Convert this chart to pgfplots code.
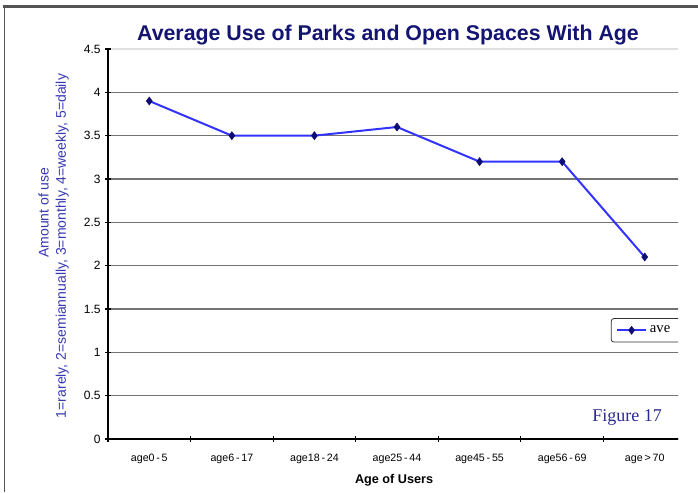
\documentclass[border=0pt]{standalone}
\usepackage{fontspec}
\setmainfont{Liberation Sans}
\newfontfamily\serif{Liberation Serif}
\usepackage{pgfplots}
\pgfplotsset{compat=1.18}
\definecolor{titlecol}{rgb}{0.08,0.08,0.45}
\definecolor{labcol}{rgb}{0.22,0.22,0.70}
\definecolor{linecol}{rgb}{0.20,0.20,1.00}
\definecolor{markcol}{rgb}{0.05,0.05,0.45}
\definecolor{figcol}{rgb}{0.17,0.17,0.55}
\definecolor{framecol}{rgb}{0.33,0.33,0.33}
\begin{document}
\begin{tikzpicture}
\useasboundingbox (0,0) rectangle (523.5pt,369pt);
\fill[white] (0,0) rectangle (523.5pt,369pt);
% outer frame (only top and left edges are visible)
\draw[framecol, line width=2.2pt] (2.25pt,364.1pt) -- (523.5pt,364.1pt);
\draw[framecol, line width=1.1pt] (3.4pt,364.1pt) -- (3.4pt,0pt);
\clip (0,0) rectangle (508.5pt,369pt);
\node[font=\bfseries\fontsize{16}{18}\selectfont, text=titlecol] at (291pt,343pt)
  {Average Use of Parks and Open Spaces With Age};
\begin{axis}[
    at={(81pt,39.75pt)}, anchor=south west,
    scale only axis, width=433.5pt, height=292.5pt,
    xmin=-0.5, xmax=6.5, ymin=0, ymax=4.5,
    axis x line*=bottom, axis y line*=left,
    axis line style={-, black, line width=0.9pt},
    xtick={0,...,6},
    xticklabels={age0\,-\,5, age6\,-\,17, age18\,-\,24, age25\,-\,44,
                 age45\,-\,55, age56\,-\,69, age\,>\,70},
    major x tick style={draw=none},
    minor xtick={-0.5,0.5,...,6.5},
    minor x tick style={black, line width=0.8pt},
    x tick label style={font=\fontsize{8}{9}\selectfont, yshift=-6pt},
    ytick={0,0.5,...,4},
    extra y ticks={4.5},
    extra y tick style={grid style={black!12, line width=1pt}},
    y tick style={black, line width=0.8pt},
    tick align=center,
    major tick length=4pt, minor tick length=4pt,
    /pgf/number format/assume math mode=true,
    y tick label style={font=\fontsize{9}{10}\selectfont},
    ymajorgrids,
    grid style={black!55, line width=1pt},
    xlabel={\textbf{Age of Users}},
    xlabel style={font=\fontsize{9.5}{11}\selectfont, at={(axis description cs:0.495,-0.105)}, anchor=center},
    ylabel={\hspace*{50pt}Amount of use\\1=rarely, 2=semiannually, 3=monthly, 4=weekly, 5=daily},
    ylabel style={font=\fontsize{10.5}{13}\selectfont, text=labcol, align=center,
                  at={(axis description cs:-0.094,0.495)}, anchor=center},
    legend style={at={(rel axis cs:0.870,0.310)}, anchor=north west,
                  draw=black!80, rounded corners=2pt, line width=0.6pt,
                  font=\serif\fontsize{11}{12}\selectfont, inner sep=3.5pt,
                  nodes={text width=40pt}},
    legend image code/.code={
      \draw[mark repeat=2, mark phase=2, #1] plot coordinates {(0pt,0pt) (11pt,0pt) (22pt,0pt)};},
]
\addplot[linecol, line width=1.5pt, mark=diamond*, mark size=3pt,
         mark options={fill=markcol, draw=markcol, line width=0.4pt}]
  coordinates {(0,3.9) (1,3.5) (2,3.5) (3,3.6) (4,3.2) (5,3.2) (6,2.1)};
\addlegendentry{ave}
\end{axis}
\node[font=\serif\fontsize{13.5}{15}\selectfont, text=figcol] at (470.25pt,56.25pt) {Figure 17};
\end{tikzpicture}
\end{document}
